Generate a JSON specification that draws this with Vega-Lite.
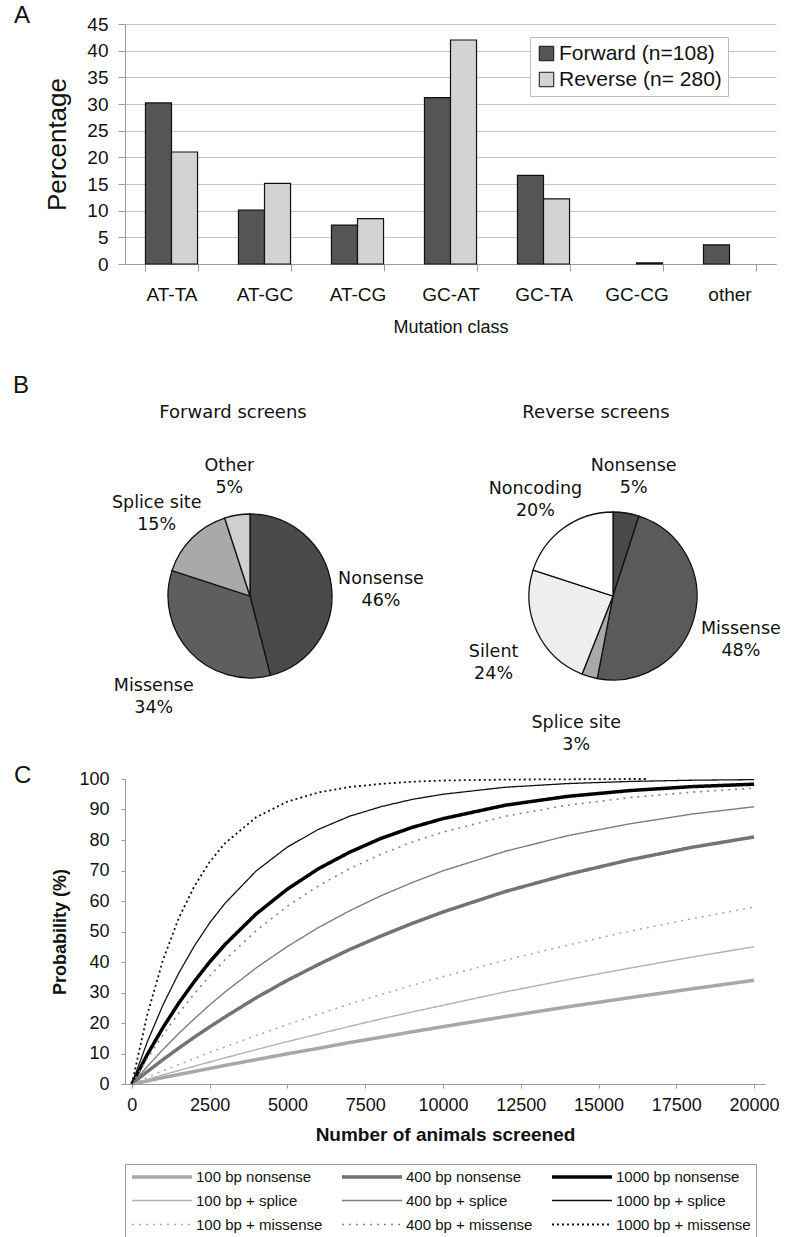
{
  "$schema": "https://vega.github.io/schema/vega-lite/v6.json",
  "background": "white",
  "padding": {"left": 13, "top": 4, "right": 2, "bottom": 2},
  "config": {
    "view": {"stroke": null},
    "font": "Liberation Sans",
    "axis": {"labelColor": "#111", "titleColor": "#111", "domainColor": "#9a9a9a", "tickColor": "#9a9a9a", "labelFont": "Liberation Sans", "titleFont": "Liberation Sans"},
    "title": {"font": "Liberation Sans", "color": "#111", "fontWeight": "normal"},
    "legend": {"labelFont": "Liberation Sans", "labelColor": "#111", "labelLimit": 400}
  },
  "spacing": 37,
  "resolve": {"scale": {"fill": "independent", "color": "independent", "strokeWidth": "independent", "strokeDash": "independent", "theta": "independent"}, "legend": {"fill": "independent", "color": "independent", "strokeWidth": "independent", "strokeDash": "independent"}},
  "vconcat": [
    {
      "title": {"text": "A", "anchor": "start", "frame": "group", "dx": -111, "fontSize": 24, "offset": -13},
      "width": 651,
      "height": 240,
      "data": {"values": [
        {"cls": "AT-TA", "screen": "Forward (n=108)", "pct": 30.2},
        {"cls": "AT-TA", "screen": "Reverse (n= 280)", "pct": 21.0},
        {"cls": "AT-GC", "screen": "Forward (n=108)", "pct": 10.1},
        {"cls": "AT-GC", "screen": "Reverse (n= 280)", "pct": 15.1},
        {"cls": "AT-CG", "screen": "Forward (n=108)", "pct": 7.3},
        {"cls": "AT-CG", "screen": "Reverse (n= 280)", "pct": 8.5},
        {"cls": "GC-AT", "screen": "Forward (n=108)", "pct": 31.2},
        {"cls": "GC-AT", "screen": "Reverse (n= 280)", "pct": 42.0},
        {"cls": "GC-TA", "screen": "Forward (n=108)", "pct": 16.6},
        {"cls": "GC-TA", "screen": "Reverse (n= 280)", "pct": 12.2},
        {"cls": "GC-CG", "screen": "Reverse (n= 280)", "pct": 0.2},
        {"cls": "other", "screen": "Forward (n=108)", "pct": 3.6}
      ]},
      "mark": {"type": "bar", "stroke": "#111", "strokeWidth": 1.2},
      "encoding": {
        "x": {"field": "cls", "type": "nominal", "sort": ["AT-TA", "AT-GC", "AT-CG", "GC-AT", "GC-TA", "GC-CG", "other"],
          "scale": {"paddingInner": 0.44, "paddingOuter": 0.22},
          "axis": {"title": "Mutation class", "labelAngle": 0, "labelFontSize": 19, "titleFontSize": 18, "titleFontWeight": "normal", "tickBand": "extent", "tickSize": 7, "labelPadding": 14, "titlePadding": 14, "grid": false}},
        "xOffset": {"field": "screen", "type": "nominal", "sort": ["Forward (n=108)", "Reverse (n= 280)"]},
        "y": {"field": "pct", "type": "quantitative", "scale": {"domain": [0, 45]},
          "axis": {"values": [0, 5, 10, 15, 20, 25, 30, 35, 40, 45], "title": "Percentage", "titleFontSize": 26, "titleFontWeight": "normal", "labelFontSize": 19, "grid": true, "gridColor": "#c4c4c4", "tickSize": 7, "labelPadding": 10, "titlePadding": 16}},
        "fill": {"field": "screen", "type": "nominal", "sort": ["Forward (n=108)", "Reverse (n= 280)"],
          "scale": {"range": ["#555555", "#d3d3d3"]},
          "legend": {"title": null, "orient": "none", "legendX": 405, "legendY": 13, "symbolType": "square", "symbolSize": 210, "symbolStrokeColor": "#111", "symbolStrokeWidth": 1, "labelFontSize": 21, "labelLimit": 400, "labelOffset": 2, "rowPadding": 4, "padding": 6, "strokeColor": "#bbbbbb", "fillColor": "white"}}
      }
    },
    {
      "spacing": 10,
      "resolve": {"scale": {"fill": "independent", "color": "independent", "strokeWidth": "independent", "strokeDash": "independent", "theta": "independent"}, "legend": {"fill": "independent", "color": "independent", "strokeWidth": "independent", "strokeDash": "independent"}},
      "vconcat": [
        {
          "title": {"text": "B", "anchor": "start", "frame": "group", "dx": -112, "fontSize": 24, "offset": 6},
          "spacing": 44,
          "resolve": {"scale": {"fill": "independent", "theta": "independent"}, "legend": {"fill": "independent"}},
          "hconcat": [
            {
              "title": {"text": "Forward screens", "font": "DejaVu Sans", "fontSize": 18, "offset": 35, "dx": -17},
              "width": 250,
              "height": 248,
              "data": {"values": [
                {"type": "Nonsense", "label": "Nonsense\n46%", "pct": 46, "k": 1},
                {"type": "Missense", "label": "Missense\n34%", "pct": 34, "k": 2},
                {"type": "Splice site", "label": "Splice site\n15%", "pct": 15, "k": 3},
                {"type": "Other", "label": "Other\n5%", "pct": 5, "k": 4}
              ]},
              "encoding": {
                "theta": {"field": "pct", "type": "quantitative", "stack": true},
                "order": {"field": "k", "type": "quantitative"}
              },
              "layer": [
                {"mark": {"type": "arc", "outerRadius": 82, "stroke": "#111", "strokeWidth": 1.3},
                  "encoding": {"fill": {"field": "type", "type": "nominal", "scale": {"domain": ["Nonsense", "Missense", "Splice site", "Other"], "range": ["#4a4a4a", "#5e5e5e", "#a9a9a9", "#cfcfcf"]}, "legend": null}}},
                {"mark": {"type": "text", "radius": 132, "font": "DejaVu Sans", "fontSize": 17.5, "lineBreak": "\n", "lineHeight": 22, "align": "center", "baseline": "middle", "color": "#111"},
                  "encoding": {"text": {"field": "label"}}}
              ]
            },
            {
              "title": {"text": "Reverse screens", "font": "DejaVu Sans", "fontSize": 18, "offset": 35, "dx": -17},
              "width": 250,
              "height": 248,
              "data": {"values": [
                {"type": "Nonsense", "label": "Nonsense\n5%", "pct": 5, "k": 1},
                {"type": "Missense", "label": "Missense\n48%", "pct": 48, "k": 2},
                {"type": "Splice site", "label": "Splice site\n3%", "pct": 3, "k": 3},
                {"type": "Silent", "label": "Silent\n24%", "pct": 24, "k": 4},
                {"type": "Noncoding", "label": "Noncoding\n20%", "pct": 20, "k": 5}
              ]},
              "encoding": {
                "theta": {"field": "pct", "type": "quantitative", "stack": true},
                "order": {"field": "k", "type": "quantitative"}
              },
              "layer": [
                {"mark": {"type": "arc", "outerRadius": 84, "stroke": "#111", "strokeWidth": 1.3},
                  "encoding": {"fill": {"field": "type", "type": "nominal", "scale": {"domain": ["Nonsense", "Missense", "Splice site", "Silent", "Noncoding"], "range": ["#4a4a4a", "#5a5a5a", "#a9a9a9", "#eeeeee", "#ffffff"]}, "legend": null}}},
                {"mark": {"type": "text", "radius": 132, "font": "DejaVu Sans", "fontSize": 17.5, "lineBreak": "\n", "lineHeight": 22, "align": "center", "baseline": "middle", "color": "#111"},
                  "encoding": {"text": {"field": "label"}}}
              ]
            }
          ]
        },
        {
          "title": {"text": "C", "anchor": "start", "frame": "group", "dx": -111, "fontSize": 24, "offset": -18},
          "width": 640,
          "height": 305,
          "data": {"values": [
            {"n": 0, "100 bp nonsense": 0, "400 bp nonsense": 0, "1000 bp nonsense": 0, "100 bp + splice": 0, "400 bp + splice": 0, "1000 bp + splice": 0, "100 bp + missense": 0, "400 bp + missense": 0, "1000 bp + missense": 0},
            {"n": 500, "100 bp nonsense": 1.0, "400 bp nonsense": 4.1, "1000 bp nonsense": 9.7, "100 bp + splice": 1.5, "400 bp + splice": 5.8, "1000 bp + splice": 13.9, "100 bp + missense": 2.2, "400 bp + missense": 8.4, "1000 bp + missense": 22.9},
            {"n": 1000, "100 bp nonsense": 2.1, "400 bp nonsense": 8.0, "1000 bp nonsense": 18.5, "100 bp + splice": 3.0, "400 bp + splice": 11.3, "1000 bp + splice": 25.9, "100 bp + missense": 4.3, "400 bp + missense": 16.1, "1000 bp + missense": 40.6},
            {"n": 1500, "100 bp nonsense": 3.1, "400 bp nonsense": 11.7, "1000 bp nonsense": 26.4, "100 bp + splice": 4.4, "400 bp + splice": 16.5, "1000 bp + splice": 36.2, "100 bp + missense": 6.3, "400 bp + missense": 23.1, "1000 bp + missense": 54.2},
            {"n": 2000, "100 bp nonsense": 4.1, "400 bp nonsense": 15.3, "1000 bp nonsense": 33.5, "100 bp + splice": 5.8, "400 bp + splice": 21.3, "1000 bp + splice": 45.1, "100 bp + missense": 8.3, "400 bp + missense": 29.5, "1000 bp + missense": 64.7},
            {"n": 2500, "100 bp nonsense": 5.1, "400 bp nonsense": 18.7, "1000 bp nonsense": 40.0, "100 bp + splice": 7.2, "400 bp + splice": 25.9, "1000 bp + splice": 52.8, "100 bp + missense": 10.3, "400 bp + missense": 35.4, "1000 bp + missense": 72.8},
            {"n": 3000, "100 bp nonsense": 6.1, "400 bp nonsense": 22.0, "1000 bp nonsense": 45.8, "100 bp + splice": 8.6, "400 bp + splice": 30.2, "1000 bp + splice": 59.3, "100 bp + missense": 12.2, "400 bp + missense": 40.8, "1000 bp + missense": 79.0},
            {"n": 4000, "100 bp nonsense": 8.0, "400 bp nonsense": 28.3, "1000 bp nonsense": 55.8, "100 bp + splice": 11.3, "400 bp + splice": 38.1, "1000 bp + splice": 69.9, "100 bp + missense": 15.9, "400 bp + missense": 50.3, "1000 bp + missense": 87.5},
            {"n": 5000, "100 bp nonsense": 9.9, "400 bp nonsense": 34.0, "1000 bp nonsense": 63.9, "100 bp + splice": 13.9, "400 bp + splice": 45.1, "1000 bp + splice": 77.7, "100 bp + missense": 19.5, "400 bp + missense": 58.3, "1000 bp + missense": 92.6},
            {"n": 6000, "100 bp nonsense": 11.7, "400 bp nonsense": 39.2, "1000 bp nonsense": 70.6, "100 bp + splice": 16.4, "400 bp + splice": 51.3, "1000 bp + splice": 83.5, "100 bp + missense": 22.9, "400 bp + missense": 65.0, "1000 bp + missense": 95.6},
            {"n": 7000, "100 bp nonsense": 13.6, "400 bp nonsense": 44.1, "1000 bp nonsense": 76.0, "100 bp + splice": 18.9, "400 bp + splice": 56.8, "1000 bp + splice": 87.8, "100 bp + missense": 26.2, "400 bp + missense": 70.6, "1000 bp + missense": 97.4},
            {"n": 8000, "100 bp nonsense": 15.3, "400 bp nonsense": 48.5, "1000 bp nonsense": 80.5, "100 bp + splice": 21.3, "400 bp + splice": 61.7, "1000 bp + splice": 90.9, "100 bp + missense": 29.3, "400 bp + missense": 75.3, "1000 bp + missense": 98.4},
            {"n": 9000, "100 bp nonsense": 17.1, "400 bp nonsense": 52.6, "1000 bp nonsense": 84.1, "100 bp + splice": 23.6, "400 bp + splice": 66.0, "1000 bp + splice": 93.3, "100 bp + missense": 32.3, "400 bp + missense": 79.3, "1000 bp + missense": 99.1},
            {"n": 10000, "100 bp nonsense": 18.8, "400 bp nonsense": 56.4, "1000 bp nonsense": 87.0, "100 bp + splice": 25.8, "400 bp + splice": 69.9, "1000 bp + splice": 95.0, "100 bp + missense": 35.2, "400 bp + missense": 82.6, "1000 bp + missense": 99.5},
            {"n": 12000, "100 bp nonsense": 22.1, "400 bp nonsense": 63.1, "1000 bp nonsense": 91.4, "100 bp + splice": 30.2, "400 bp + splice": 76.3, "1000 bp + splice": 97.3, "100 bp + missense": 40.6, "400 bp + missense": 87.8, "1000 bp + missense": 99.8},
            {"n": 14000, "100 bp nonsense": 25.3, "400 bp nonsense": 68.7, "1000 bp nonsense": 94.3, "100 bp + splice": 34.2, "400 bp + splice": 81.4, "1000 bp + splice": 98.5, "100 bp + missense": 45.5, "400 bp + missense": 91.4, "1000 bp + missense": 99.9},
            {"n": 16000, "100 bp nonsense": 28.3, "400 bp nonsense": 73.5, "1000 bp nonsense": 96.2, "100 bp + splice": 38.0, "400 bp + splice": 85.3, "1000 bp + splice": 99.2, "100 bp + missense": 50.1, "400 bp + missense": 93.9, "1000 bp + missense": 100},
            {"n": 16600, "1000 bp + missense": 100},
            {"n": 18000, "100 bp nonsense": 31.2, "400 bp nonsense": 77.6, "1000 bp nonsense": 97.5, "100 bp + splice": 41.6, "400 bp + splice": 88.5, "1000 bp + splice": 99.6, "100 bp + missense": 54.2, "400 bp + missense": 95.7},
            {"n": 20000, "100 bp nonsense": 34.0, "400 bp nonsense": 81.0, "1000 bp nonsense": 98.3, "100 bp + splice": 45.0, "400 bp + splice": 90.9, "1000 bp + splice": 99.8, "100 bp + missense": 58.0, "400 bp + missense": 97.0}
          ]},
          "transform": [
            {"fold": ["100 bp nonsense", "400 bp nonsense", "1000 bp nonsense", "100 bp + splice", "400 bp + splice", "1000 bp + splice", "100 bp + missense", "400 bp + missense", "1000 bp + missense"], "as": ["series", "prob"]},
            {"filter": "isValid(datum.prob)"}
          ],
          "mark": {"type": "line", "strokeCap": "butt"},
          "encoding": {
            "x": {"field": "n", "type": "quantitative", "scale": {"domain": [-220, 20350], "nice": false, "zero": false},
              "axis": {"values": [0, 2500, 5000, 7500, 10000, 12500, 15000, 17500, 20000], "format": "d", "title": "Number of animals screened", "titleFontWeight": "bold", "titleFontSize": 19, "labelFontSize": 18, "tickSize": 4, "labelPadding": 8, "titlePadding": 11, "grid": false, "labelFlush": false}},
            "y": {"field": "prob", "type": "quantitative", "scale": {"domain": [0, 100]},
              "axis": {"values": [0, 10, 20, 30, 40, 50, 60, 70, 80, 90, 100], "title": "Probability (%)", "titleFontWeight": "bold", "titleFontSize": 18, "labelFontSize": 18, "tickSize": 4, "labelPadding": 12, "titlePadding": 9, "grid": false}},
            "color": {"field": "series", "type": "nominal",
              "scale": {"domain": ["100 bp nonsense", "400 bp nonsense", "1000 bp nonsense", "100 bp + splice", "400 bp + splice", "1000 bp + splice", "100 bp + missense", "400 bp + missense", "1000 bp + missense"],
                "range": ["#a8a8a8", "#737373", "#000000", "#b0b0b0", "#7d7d7d", "#111111", "#ababab", "#858585", "#111111"]},
              "legend": {"title": null, "orient": "bottom", "direction": "horizontal", "columns": 3, "symbolType": "M-1,0H9", "symbolSize": 144, "labelFontSize": 15, "labelOffset": 50, "columnPadding": 12, "rowPadding": 8, "padding": 5, "strokeColor": "#9a9a9a", "offset": 20}},
            "strokeWidth": {"field": "series", "type": "nominal",
              "scale": {"type": "ordinal", "domain": ["100 bp nonsense", "400 bp nonsense", "1000 bp nonsense", "100 bp + splice", "400 bp + splice", "1000 bp + splice", "100 bp + missense", "400 bp + missense", "1000 bp + missense"],
                "range": [3.5, 3.5, 3.5, 1.4, 1.4, 1.3, 1.6, 1.6, 1.8]},
              "legend": {"title": null, "orient": "bottom", "direction": "horizontal", "columns": 3, "symbolType": "M-1,0H9", "symbolSize": 144, "labelFontSize": 15, "labelOffset": 50, "columnPadding": 12, "rowPadding": 8, "padding": 5, "strokeColor": "#9a9a9a", "offset": 20}},
            "strokeDash": {"field": "series", "type": "nominal",
              "scale": {"domain": ["100 bp nonsense", "400 bp nonsense", "1000 bp nonsense", "100 bp + splice", "400 bp + splice", "1000 bp + splice", "100 bp + missense", "400 bp + missense", "1000 bp + missense"],
                "range": [[1, 0], [1, 0], [1, 0], [1, 0], [1, 0], [1, 0], [2, 5], [2, 5], [2, 3]]},
              "legend": {"title": null, "orient": "bottom", "direction": "horizontal", "columns": 3, "symbolType": "M-1,0H9", "symbolSize": 144, "labelFontSize": 15, "labelOffset": 50, "columnPadding": 12, "rowPadding": 8, "padding": 5, "strokeColor": "#9a9a9a", "offset": 20}}
          }
        }
      ]
    }
  ]
}
